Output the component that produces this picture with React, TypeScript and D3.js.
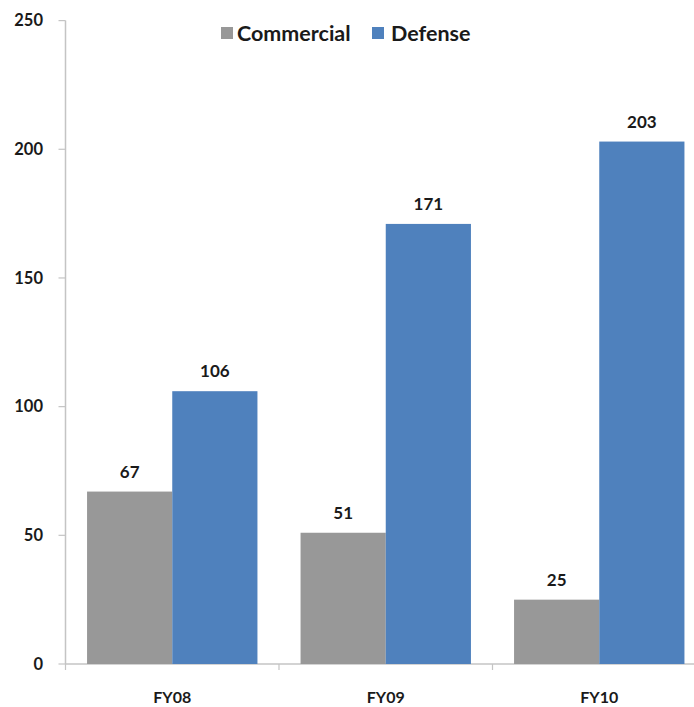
import React from "react";
import * as d3 from "d3";

const categories = ["FY08", "FY09", "FY10"];
const seriesNames = ["Commercial", "Defense"];
const commercial = [67, 51, 25];
const defense = [106, 171, 203];
const yTicks = [0, 50, 100, 150, 200, 250];
const colors = ["#989898", "#4f81bd"];

const W = 694, H = 707;
const left = 65.5, bottom = 664, top = 20.6;
const catWidth = 213.5;

export default function App() {
  const x = d3.scaleBand<string>().domain(categories).range([left, left + catWidth * categories.length]).paddingInner(0).paddingOuter(0);
  const inner = d3.scaleBand<string>().domain(seriesNames).range([0, x.bandwidth()]).paddingOuter(0.253).paddingInner(0);
  const y = d3.scaleLinear().domain([0, 250]).range([bottom, top]);
  const series = [commercial, defense];
  const font = "Lato, 'Open Sans', sans-serif";
  return (
    <svg width={W} height={H} style={{ position: "absolute", left: 0, top: 0, background: "#fff" }} fontFamily={font}>
      {/* y axis */}
      <line x1={left} x2={left} y1={top} y2={bottom} stroke="#c4c4c4" strokeWidth={1.5} />
      {yTicks.map((t) => (
        <g key={t}>
          <line x1={left - 7} x2={left} y1={y(t)} y2={y(t)} stroke="#c4c4c4" strokeWidth={1.2} />
          <text x={43} y={y(t)} dy="0.35em" textAnchor="end" fontSize={16.5} fontWeight={700} fill="#1a1a1a">{t}</text>
        </g>
      ))}
      {/* x axis */}
      <line x1={left} x2={W} y1={bottom} y2={bottom} stroke="#c4c4c4" strokeWidth={1.5} />
      {categories.map((c) => (
        <line key={"t" + c} x1={x(c)!} x2={x(c)!} y1={bottom} y2={bottom + 6} stroke="#c4c4c4" strokeWidth={1.2} />
      ))}
      {/* bars */}
      {categories.map((c, i) => (
        <g key={c}>
          {seriesNames.map((s, j) => {
            const v = series[j][i];
            const bx = x(c)! + inner(s)!;
            return (
              <g key={s}>
                <rect x={bx} y={y(v)} width={inner.bandwidth()} height={bottom - y(v)} fill={colors[j]} />
                <text x={bx + inner.bandwidth() / 2} y={y(v) - 20} dy="0.35em" textAnchor="middle" fontSize={17} fontWeight={700} fill="#1a1a1a">{v}</text>
              </g>
            );
          })}
          <text x={x(c)! + x.bandwidth() / 2} y={697} dy="0.35em" textAnchor="middle" fontSize={16} fontWeight={700} fill="#1a1a1a">{c}</text>
        </g>
      ))}
      {/* legend */}
      <g>
        <rect x={221} y={27} width={12} height={12} fill={colors[0]} />
        <text x={237} y={33} dy="0.35em" fontSize={21.5} fontWeight={700} fill="#1a1a1a">Commercial</text>
        <rect x={372} y={27} width={12} height={12} fill={colors[1]} />
        <text x={391} y={33} dy="0.35em" fontSize={21.5} fontWeight={700} fill="#1a1a1a">Defense</text>
      </g>
    </svg>
  );
}
